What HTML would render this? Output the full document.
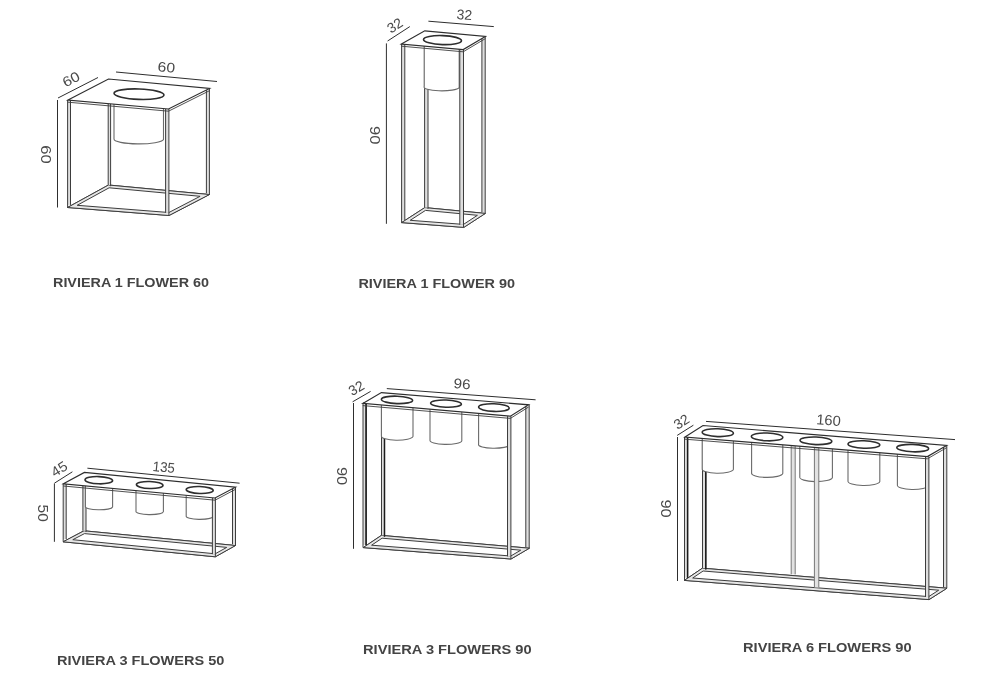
<!DOCTYPE html>
<html><head><meta charset="utf-8"><title>Riviera planters</title>
<style>
html,body{margin:0;padding:0;background:#fff;}
body{width:1000px;height:700px;overflow:hidden;font-family:"Liberation Sans",sans-serif;}
svg{display:block;opacity:0.999;will-change:transform;font-family:"Liberation Sans",sans-serif;}
</style></head><body>
<svg width="1000" height="700" viewBox="0 0 1000 700">
<rect width="1000" height="700" fill="#fff"/>
<path d="M67.5 207.5 L169.0 215.5 L209.5 194.5 L108.5 185.0 Z" stroke="#3d3d3d" stroke-width="1" fill="none" stroke-linejoin="miter"/>
<path d="M67.5 207.5 L169.0 215.5 L209.5 194.5 L108.5 185.0 Z M77.2 205.3 L168.9 212.5 L200.1 196.3 L109.1 187.8 Z" fill="#e6e6e6" fill-rule="evenodd" stroke="none"/>
<path d="M67.5 207.5 L169.0 215.5 L209.5 194.5 L108.5 185.0 Z" stroke="#3d3d3d" stroke-width="1" fill="none" stroke-linejoin="miter"/>
<path d="M77.2 205.3 L168.9 212.5 L200.1 196.3 L109.1 187.8 Z" stroke="#3d3d3d" stroke-width="1" fill="none" stroke-linejoin="miter"/>
<rect x="108.2" y="103.6" width="2.4" height="81.4" fill="#dedede"/>
<line x1="108.2" y1="103.6" x2="108.2" y2="185.0" stroke="#3d3d3d" stroke-width="1" />
<line x1="110.6" y1="103.6" x2="110.6" y2="186.2" stroke="#3d3d3d" stroke-width="1" />
<rect x="206.4" y="88.5" width="3.0" height="104.8" fill="#dedede"/>
<line x1="206.4" y1="88.5" x2="206.4" y2="193.3" stroke="#3d3d3d" stroke-width="1" />
<line x1="209.4" y1="88.5" x2="209.4" y2="194.5" stroke="#3d3d3d" stroke-width="1" />
<path d="M114.0 100.0 L114.0 139.0 A24.8 4.8 0 0 0 163.5 139.5 L163.5 100.0" stroke="#6a6a6a" stroke-width="1.1" fill="#fff"/>
<rect x="67.6" y="100.0" width="2.9" height="104.9" fill="#dedede"/>
<rect x="165.6" y="109.0" width="3.3" height="103.9" fill="#dedede"/>
<line x1="67.6" y1="100.0" x2="67.6" y2="207.5" stroke="#3d3d3d" stroke-width="1" />
<line x1="70.5" y1="100.0" x2="70.5" y2="204.9" stroke="#3d3d3d" stroke-width="1" />
<line x1="165.6" y1="109.0" x2="165.6" y2="212.9" stroke="#3d3d3d" stroke-width="1" />
<line x1="168.9" y1="109.0" x2="168.9" y2="215.5" stroke="#3d3d3d" stroke-width="1" />
<path d="M68.0 102.2 L168.5 111.2 L209.5 90.7" stroke="#3d3d3d" stroke-width="0.9" fill="none" stroke-linejoin="miter"/>
<path d="M68.0 100.0 L108.5 79.0 L209.5 88.5 L168.5 109.0 Z" stroke="#2e2e2e" stroke-width="1.2" fill="#fff" stroke-linejoin="miter"/>
<ellipse cx="139.0" cy="94.2" rx="25.0" ry="5.2" transform="rotate(2 139.0 94.2)" stroke="#2e2e2e" stroke-width="1.6" fill="#fff"/>
<line x1="58.0" y1="98.0" x2="98.0" y2="77.5" stroke="#2e2e2e" stroke-width="1" />
<line x1="57.5" y1="100.0" x2="57.5" y2="207.5" stroke="#2e2e2e" stroke-width="1" />
<line x1="116.0" y1="72.0" x2="217.0" y2="81.5" stroke="#2e2e2e" stroke-width="1" />
<text x="0" y="0" transform="translate(71.0 79.0) rotate(-27)" font-size="14" font-weight="normal" fill="#4a4a4a" text-anchor="middle" dominant-baseline="central" textLength="17.5" lengthAdjust="spacingAndGlyphs">60</text>
<text x="0" y="0" transform="translate(166.5 67.0) rotate(5)" font-size="14" font-weight="normal" fill="#4a4a4a" text-anchor="middle" dominant-baseline="central" textLength="17.5" lengthAdjust="spacingAndGlyphs">60</text>
<text x="0" y="0" transform="translate(46.0 154.5) rotate(90)" font-size="14.8" font-weight="normal" fill="#4a4a4a" text-anchor="middle" dominant-baseline="central" textLength="18.5" lengthAdjust="spacingAndGlyphs">60</text>
<path d="M401.6 222.6 L463.8 227.4 L485.4 213.4 L424.8 207.6 Z" stroke="#3d3d3d" stroke-width="1" fill="none" stroke-linejoin="miter"/>
<path d="M401.6 222.6 L463.8 227.4 L485.4 213.4 L424.8 207.6 Z M410.2 220.3 L463.5 224.4 L477.4 215.3 L425.5 210.4 Z" fill="#e6e6e6" fill-rule="evenodd" stroke="none"/>
<path d="M401.6 222.6 L463.8 227.4 L485.4 213.4 L424.8 207.6 Z" stroke="#3d3d3d" stroke-width="1" fill="none" stroke-linejoin="miter"/>
<path d="M410.2 220.3 L463.5 224.4 L477.4 215.3 L425.5 210.4 Z" stroke="#3d3d3d" stroke-width="1" fill="none" stroke-linejoin="miter"/>
<rect x="424.6" y="46.1" width="3.4" height="161.5" fill="#dedede"/>
<line x1="424.6" y1="46.1" x2="424.6" y2="207.6" stroke="#3d3d3d" stroke-width="1" />
<line x1="428.0" y1="46.1" x2="428.0" y2="208.8" stroke="#3d3d3d" stroke-width="1" />
<rect x="481.9" y="36.4" width="3.3" height="175.8" fill="#dedede"/>
<line x1="481.9" y1="36.4" x2="481.9" y2="212.2" stroke="#3d3d3d" stroke-width="1" />
<line x1="485.2" y1="36.4" x2="485.2" y2="213.4" stroke="#3d3d3d" stroke-width="1" />
<path d="M424.2 42.0 L424.2 86.4 A17.5 3.8 0 0 0 459.2 87.6 L459.2 42.0" stroke="#6a6a6a" stroke-width="1.1" fill="#fff"/>
<rect x="401.6" y="44.0" width="3.2" height="176.0" fill="#dedede"/>
<rect x="459.8" y="49.6" width="3.7" height="175.2" fill="#dedede"/>
<line x1="401.6" y1="44.0" x2="401.6" y2="222.6" stroke="#3d3d3d" stroke-width="1" />
<line x1="404.8" y1="44.0" x2="404.8" y2="220.0" stroke="#3d3d3d" stroke-width="1" />
<line x1="459.8" y1="49.6" x2="459.8" y2="224.8" stroke="#3d3d3d" stroke-width="1" />
<line x1="463.5" y1="49.6" x2="463.5" y2="227.4" stroke="#3d3d3d" stroke-width="1" />
<path d="M401.4 46.2 L463.2 51.8 L485.4 38.6" stroke="#3d3d3d" stroke-width="0.9" fill="none" stroke-linejoin="miter"/>
<path d="M401.4 44.0 L424.8 30.8 L485.4 36.4 L463.2 49.6 Z" stroke="#2e2e2e" stroke-width="1.2" fill="#fff" stroke-linejoin="miter"/>
<ellipse cx="442.5" cy="40.1" rx="19.0" ry="4.5" transform="rotate(2 442.5 40.1)" stroke="#2e2e2e" stroke-width="1.6" fill="#fff"/>
<line x1="387.6" y1="41.0" x2="409.8" y2="26.6" stroke="#2e2e2e" stroke-width="1" />
<line x1="386.4" y1="43.4" x2="386.4" y2="223.8" stroke="#2e2e2e" stroke-width="1" />
<line x1="428.4" y1="21.2" x2="493.8" y2="26.6" stroke="#2e2e2e" stroke-width="1" />
<text x="0" y="0" transform="translate(394.8 25.4) rotate(-33)" font-size="14" font-weight="normal" fill="#4a4a4a" text-anchor="middle" dominant-baseline="central" textLength="15.5" lengthAdjust="spacingAndGlyphs">32</text>
<text x="0" y="0" transform="translate(464.4 14.6) rotate(5)" font-size="14" font-weight="normal" fill="#4a4a4a" text-anchor="middle" dominant-baseline="central" textLength="15.5" lengthAdjust="spacingAndGlyphs">32</text>
<text x="0" y="0" transform="translate(375.0 135.2) rotate(90)" font-size="14.8" font-weight="normal" fill="#4a4a4a" text-anchor="middle" dominant-baseline="central" textLength="18.5" lengthAdjust="spacingAndGlyphs">90</text>
<path d="M63.1 541.8 L215.3 556.8 L235.5 545.5 L84.0 530.8 Z" stroke="#3d3d3d" stroke-width="1" fill="none" stroke-linejoin="miter"/>
<path d="M63.1 541.8 L215.3 556.8 L235.5 545.5 L84.0 530.8 Z M72.8 539.7 L215.2 553.8 L226.7 547.4 L84.5 533.6 Z" fill="#e6e6e6" fill-rule="evenodd" stroke="none"/>
<path d="M63.1 541.8 L215.3 556.8 L235.5 545.5 L84.0 530.8 Z" stroke="#3d3d3d" stroke-width="1" fill="none" stroke-linejoin="miter"/>
<path d="M72.8 539.7 L215.2 553.8 L226.7 547.4 L84.5 533.6 Z" stroke="#3d3d3d" stroke-width="1" fill="none" stroke-linejoin="miter"/>
<rect x="82.9" y="485.6" width="3.1" height="45.2" fill="#dedede"/>
<line x1="82.9" y1="485.6" x2="82.9" y2="530.8" stroke="#3d3d3d" stroke-width="1" />
<line x1="86.0" y1="485.6" x2="86.0" y2="532.0" stroke="#3d3d3d" stroke-width="1" />
<rect x="232.5" y="487.2" width="3.0" height="57.1" fill="#dedede"/>
<line x1="232.5" y1="487.2" x2="232.5" y2="544.3" stroke="#3d3d3d" stroke-width="1" />
<line x1="235.5" y1="487.2" x2="235.5" y2="545.5" stroke="#3d3d3d" stroke-width="1" />
<path d="M85.4 482.0 L85.4 506.4 A13.6 3.2 0 0 0 112.6 506.8 L112.6 482.0" stroke="#6a6a6a" stroke-width="1.1" fill="#fff"/>
<path d="M136.0 487.0 L136.0 511.2 A13.7 3.2 0 0 0 163.4 511.6 L163.4 487.0" stroke="#6a6a6a" stroke-width="1.1" fill="#fff"/>
<path d="M186.2 492.0 L186.2 516.0 A13.5 3.2 0 0 0 213.2 516.4 L213.2 492.0" stroke="#6a6a6a" stroke-width="1.1" fill="#fff"/>
<rect x="63.2" y="483.8" width="3.0" height="55.4" fill="#dedede"/>
<rect x="212.4" y="498.0" width="3.0" height="56.2" fill="#dedede"/>
<line x1="63.2" y1="483.8" x2="63.2" y2="541.8" stroke="#3d3d3d" stroke-width="1" />
<line x1="66.2" y1="483.8" x2="66.2" y2="539.2" stroke="#3d3d3d" stroke-width="1" />
<line x1="212.4" y1="498.0" x2="212.4" y2="554.2" stroke="#3d3d3d" stroke-width="1" />
<line x1="215.4" y1="498.0" x2="215.4" y2="556.8" stroke="#3d3d3d" stroke-width="1" />
<path d="M63.4 486.0 L215.0 500.2 L235.4 489.4" stroke="#3d3d3d" stroke-width="0.9" fill="none" stroke-linejoin="miter"/>
<path d="M63.4 483.8 L84.4 472.4 L235.4 487.2 L215.0 498.0 Z" stroke="#2e2e2e" stroke-width="1.2" fill="#fff" stroke-linejoin="miter"/>
<ellipse cx="98.8" cy="480.2" rx="13.8" ry="3.6" transform="rotate(2 98.8 480.2)" stroke="#2e2e2e" stroke-width="1.6" fill="#fff"/>
<ellipse cx="149.7" cy="485.0" rx="13.3" ry="3.5" transform="rotate(2 149.7 485.0)" stroke="#2e2e2e" stroke-width="1.6" fill="#fff"/>
<ellipse cx="199.7" cy="490.0" rx="13.5" ry="3.5" transform="rotate(2 199.7 490.0)" stroke="#2e2e2e" stroke-width="1.6" fill="#fff"/>
<line x1="54.4" y1="483.2" x2="72.4" y2="471.8" stroke="#2e2e2e" stroke-width="1" />
<line x1="54.4" y1="483.5" x2="54.4" y2="541.8" stroke="#2e2e2e" stroke-width="1" />
<line x1="87.4" y1="468.2" x2="239.6" y2="483.2" stroke="#2e2e2e" stroke-width="1" />
<text x="0" y="0" transform="translate(59.2 468.8) rotate(-32)" font-size="14" font-weight="normal" fill="#4a4a4a" text-anchor="middle" dominant-baseline="central" textLength="16.5" lengthAdjust="spacingAndGlyphs">45</text>
<text x="0" y="0" transform="translate(163.8 467.0) rotate(5.6)" font-size="14" font-weight="normal" fill="#4a4a4a" text-anchor="middle" dominant-baseline="central" textLength="22.2" lengthAdjust="spacingAndGlyphs">135</text>
<text x="0" y="0" transform="translate(42.9 513.2) rotate(90)" font-size="14.8" font-weight="normal" fill="#4a4a4a" text-anchor="middle" dominant-baseline="central" textLength="17.2" lengthAdjust="spacingAndGlyphs">50</text>
<path d="M363.2 547.6 L511.0 559.0 L529.4 548.2 L381.4 535.4 Z" stroke="#3d3d3d" stroke-width="1" fill="none" stroke-linejoin="miter"/>
<path d="M363.2 547.6 L511.0 559.0 L529.4 548.2 L381.4 535.4 Z M371.6 545.2 L510.8 556.0 L520.7 550.2 L382.1 538.2 Z" fill="#e6e6e6" fill-rule="evenodd" stroke="none"/>
<path d="M363.2 547.6 L511.0 559.0 L529.4 548.2 L381.4 535.4 Z" stroke="#3d3d3d" stroke-width="1" fill="none" stroke-linejoin="miter"/>
<path d="M371.6 545.2 L510.8 556.0 L520.7 550.2 L382.1 538.2 Z" stroke="#3d3d3d" stroke-width="1" fill="none" stroke-linejoin="miter"/>
<rect x="381.5" y="405.0" width="3.0" height="130.4" fill="#dedede"/>
<line x1="381.5" y1="405.0" x2="381.5" y2="535.4" stroke="#3d3d3d" stroke-width="1" />
<line x1="384.5" y1="405.0" x2="384.5" y2="536.6" stroke="#3d3d3d" stroke-width="1" />
<line x1="384.5" y1="405.0" x2="384.5" y2="536.6" stroke="#1c1c1c" stroke-width="1.5" />
<rect x="525.8" y="404.8" width="3.4" height="142.2" fill="#dedede"/>
<line x1="525.8" y1="404.8" x2="525.8" y2="547.0" stroke="#3d3d3d" stroke-width="1" />
<line x1="529.2" y1="404.8" x2="529.2" y2="548.2" stroke="#3d3d3d" stroke-width="1" />
<path d="M381.4 402.0 L381.4 435.8 A15.8 4.1 0 0 0 413.0 436.4 L413.0 402.0" stroke="#6a6a6a" stroke-width="1.1" fill="#fff"/>
<path d="M430.0 406.0 L430.0 440.2 A15.9 3.9 0 0 0 461.8 440.8 L461.8 406.0" stroke="#6a6a6a" stroke-width="1.1" fill="#fff"/>
<path d="M478.6 410.0 L478.6 444.4 A15.5 3.5 0 0 0 509.6 445.0 L509.6 410.0" stroke="#6a6a6a" stroke-width="1.1" fill="#fff"/>
<rect x="363.0" y="403.4" width="3.1" height="141.6" fill="#dedede"/>
<rect x="507.5" y="416.2" width="3.4" height="140.2" fill="#dedede"/>
<line x1="363.0" y1="403.4" x2="363.0" y2="547.6" stroke="#3d3d3d" stroke-width="1" />
<line x1="366.1" y1="403.4" x2="366.1" y2="545.0" stroke="#3d3d3d" stroke-width="1" />
<line x1="507.5" y1="416.2" x2="507.5" y2="556.4" stroke="#3d3d3d" stroke-width="1" />
<line x1="510.9" y1="416.2" x2="510.9" y2="559.0" stroke="#3d3d3d" stroke-width="1" />
<line x1="366.1" y1="403.4" x2="366.1" y2="545.0" stroke="#1c1c1c" stroke-width="1.5" />
<path d="M362.8 405.6 L510.4 418.4 L528.6 407.0" stroke="#3d3d3d" stroke-width="0.9" fill="none" stroke-linejoin="miter"/>
<path d="M362.8 403.4 L381.4 392.6 L528.6 404.8 L510.4 416.2 Z" stroke="#2e2e2e" stroke-width="1.2" fill="#fff" stroke-linejoin="miter"/>
<ellipse cx="397.0" cy="399.9" rx="15.6" ry="3.7" transform="rotate(2 397.0 399.9)" stroke="#2e2e2e" stroke-width="1.6" fill="#fff"/>
<ellipse cx="446.0" cy="403.6" rx="15.4" ry="3.6" transform="rotate(2 446.0 403.6)" stroke="#2e2e2e" stroke-width="1.6" fill="#fff"/>
<ellipse cx="493.9" cy="407.6" rx="15.3" ry="3.8" transform="rotate(2 493.9 407.6)" stroke="#2e2e2e" stroke-width="1.6" fill="#fff"/>
<line x1="352.6" y1="401.8" x2="370.6" y2="391.4" stroke="#2e2e2e" stroke-width="1" />
<line x1="353.5" y1="403.0" x2="353.5" y2="548.8" stroke="#2e2e2e" stroke-width="1" />
<line x1="386.8" y1="388.6" x2="535.6" y2="399.8" stroke="#2e2e2e" stroke-width="1" />
<text x="0" y="0" transform="translate(356.2 388.0) rotate(-30)" font-size="14" font-weight="normal" fill="#4a4a4a" text-anchor="middle" dominant-baseline="central" textLength="15.5" lengthAdjust="spacingAndGlyphs">32</text>
<text x="0" y="0" transform="translate(462.2 383.8) rotate(4.5)" font-size="14" font-weight="normal" fill="#4a4a4a" text-anchor="middle" dominant-baseline="central" textLength="17" lengthAdjust="spacingAndGlyphs">96</text>
<text x="0" y="0" transform="translate(342.1 476.1) rotate(90)" font-size="14.8" font-weight="normal" fill="#4a4a4a" text-anchor="middle" dominant-baseline="central" textLength="18.3" lengthAdjust="spacingAndGlyphs">90</text>
<path d="M684.4 580.4 L929.0 599.6 L947.0 588.2 L702.4 568.2 Z" stroke="#3d3d3d" stroke-width="1" fill="none" stroke-linejoin="miter"/>
<path d="M684.4 580.4 L929.0 599.6 L947.0 588.2 L702.4 568.2 Z M692.7 578.0 L928.7 596.6 L938.7 590.2 L703.1 571.0 Z" fill="#e6e6e6" fill-rule="evenodd" stroke="none"/>
<path d="M684.4 580.4 L929.0 599.6 L947.0 588.2 L702.4 568.2 Z" stroke="#3d3d3d" stroke-width="1" fill="none" stroke-linejoin="miter"/>
<path d="M692.7 578.0 L928.7 596.6 L938.7 590.2 L703.1 571.0 Z" stroke="#3d3d3d" stroke-width="1" fill="none" stroke-linejoin="miter"/>
<rect x="702.5" y="438.4" width="3.3" height="129.8" fill="#dedede"/>
<line x1="702.5" y1="438.4" x2="702.5" y2="568.2" stroke="#3d3d3d" stroke-width="1" />
<line x1="705.8" y1="438.4" x2="705.8" y2="569.4" stroke="#3d3d3d" stroke-width="1" />
<line x1="705.8" y1="438.4" x2="705.8" y2="569.4" stroke="#1c1c1c" stroke-width="1.5" />
<rect x="943.5" y="445.5" width="3.3" height="141.5" fill="#dedede"/>
<line x1="943.5" y1="445.5" x2="943.5" y2="587.0" stroke="#3d3d3d" stroke-width="1" />
<line x1="946.8" y1="445.5" x2="946.8" y2="588.2" stroke="#3d3d3d" stroke-width="1" />
<rect x="791.2" y="444.0" width="4.0" height="130.4" fill="#e2e2e2" stroke="none"/>
<line x1="791.2" y1="444.0" x2="791.2" y2="574.4" stroke="#777" stroke-width="1" />
<line x1="795.2" y1="444.0" x2="795.2" y2="574.4" stroke="#777" stroke-width="1" />
<path d="M702.2 435.0 L702.2 468.8 A15.6 4.1 0 0 0 733.4 469.4 L733.4 435.0" stroke="#6a6a6a" stroke-width="1.1" fill="#fff"/>
<path d="M751.6 439.0 L751.6 472.8 A15.6 4.3 0 0 0 782.8 473.4 L782.8 439.0" stroke="#6a6a6a" stroke-width="1.1" fill="#fff"/>
<path d="M799.8 443.0 L799.8 477.0 A16.3 4.3 0 0 0 832.4 477.6 L832.4 443.0" stroke="#6a6a6a" stroke-width="1.1" fill="#fff"/>
<path d="M848.0 447.0 L848.0 481.0 A15.9 4.2 0 0 0 879.8 481.6 L879.8 447.0" stroke="#6a6a6a" stroke-width="1.1" fill="#fff"/>
<path d="M897.4 451.0 L897.4 485.0 A15.5 4.2 0 0 0 928.4 485.6 L928.4 451.0" stroke="#6a6a6a" stroke-width="1.1" fill="#fff"/>
<rect x="814.4" y="447.0" width="4.4" height="140.4" fill="#e2e2e2" stroke="none"/>
<line x1="814.4" y1="447.0" x2="814.4" y2="587.4" stroke="#777" stroke-width="1" />
<line x1="818.8" y1="447.0" x2="818.8" y2="587.4" stroke="#777" stroke-width="1" />
<rect x="684.5" y="437.0" width="3.1" height="140.8" fill="#dedede"/>
<rect x="925.5" y="456.6" width="3.4" height="140.4" fill="#dedede"/>
<line x1="684.5" y1="437.0" x2="684.5" y2="580.4" stroke="#3d3d3d" stroke-width="1" />
<line x1="687.6" y1="437.0" x2="687.6" y2="577.8" stroke="#3d3d3d" stroke-width="1" />
<line x1="925.5" y1="456.6" x2="925.5" y2="597.0" stroke="#3d3d3d" stroke-width="1" />
<line x1="928.9" y1="456.6" x2="928.9" y2="599.6" stroke="#3d3d3d" stroke-width="1" />
<line x1="687.6" y1="437.0" x2="687.6" y2="577.8" stroke="#1c1c1c" stroke-width="1.5" />
<path d="M685.0 439.2 L927.4 458.8 L946.6 447.7" stroke="#3d3d3d" stroke-width="0.9" fill="none" stroke-linejoin="miter"/>
<path d="M685.0 437.0 L703.0 425.5 L946.6 445.5 L927.4 456.6 Z" stroke="#2e2e2e" stroke-width="1.2" fill="#fff" stroke-linejoin="miter"/>
<ellipse cx="717.8" cy="432.7" rx="15.6" ry="3.9" transform="rotate(2 717.8 432.7)" stroke="#2e2e2e" stroke-width="1.6" fill="#fff"/>
<ellipse cx="767.1" cy="436.9" rx="15.7" ry="3.9" transform="rotate(2 767.1 436.9)" stroke="#2e2e2e" stroke-width="1.6" fill="#fff"/>
<ellipse cx="815.9" cy="440.8" rx="15.9" ry="3.8" transform="rotate(2 815.9 440.8)" stroke="#2e2e2e" stroke-width="1.6" fill="#fff"/>
<ellipse cx="863.9" cy="444.5" rx="15.9" ry="3.7" transform="rotate(2 863.9 444.5)" stroke="#2e2e2e" stroke-width="1.6" fill="#fff"/>
<ellipse cx="912.7" cy="448.1" rx="15.9" ry="3.7" transform="rotate(2 912.7 448.1)" stroke="#2e2e2e" stroke-width="1.6" fill="#fff"/>
<line x1="677.2" y1="435.4" x2="693.4" y2="425.2" stroke="#2e2e2e" stroke-width="1" />
<line x1="677.5" y1="437.0" x2="677.5" y2="581.0" stroke="#2e2e2e" stroke-width="1" />
<line x1="706.0" y1="421.4" x2="955.0" y2="439.6" stroke="#2e2e2e" stroke-width="1" />
<text x="0" y="0" transform="translate(681.4 421.6) rotate(-32)" font-size="14" font-weight="normal" fill="#4a4a4a" text-anchor="middle" dominant-baseline="central" textLength="15.5" lengthAdjust="spacingAndGlyphs">32</text>
<text x="0" y="0" transform="translate(828.6 420.2) rotate(4.5)" font-size="14.6" font-weight="normal" fill="#4a4a4a" text-anchor="middle" dominant-baseline="central" textLength="24.6" lengthAdjust="spacingAndGlyphs">160</text>
<text x="0" y="0" transform="translate(666.0 508.6) rotate(90)" font-size="14.8" font-weight="normal" fill="#4a4a4a" text-anchor="middle" dominant-baseline="central" textLength="18.3" lengthAdjust="spacingAndGlyphs">90</text>
<text x="53" y="287" font-size="13.3" font-weight="bold" fill="#444" textLength="156.0" lengthAdjust="spacingAndGlyphs">RIVIERA 1 FLOWER 60</text>
<text x="358.4" y="287.5" font-size="13.3" font-weight="bold" fill="#444" textLength="156.6" lengthAdjust="spacingAndGlyphs">RIVIERA 1 FLOWER 90</text>
<text x="57" y="665" font-size="13.3" font-weight="bold" fill="#444" textLength="167.4" lengthAdjust="spacingAndGlyphs">RIVIERA 3 FLOWERS 50</text>
<text x="363" y="654" font-size="13.3" font-weight="bold" fill="#444" textLength="168.6" lengthAdjust="spacingAndGlyphs">RIVIERA 3 FLOWERS 90</text>
<text x="743" y="652.4" font-size="13.3" font-weight="bold" fill="#444" textLength="168.6" lengthAdjust="spacingAndGlyphs">RIVIERA 6 FLOWERS 90</text>
</svg>
</body></html>
